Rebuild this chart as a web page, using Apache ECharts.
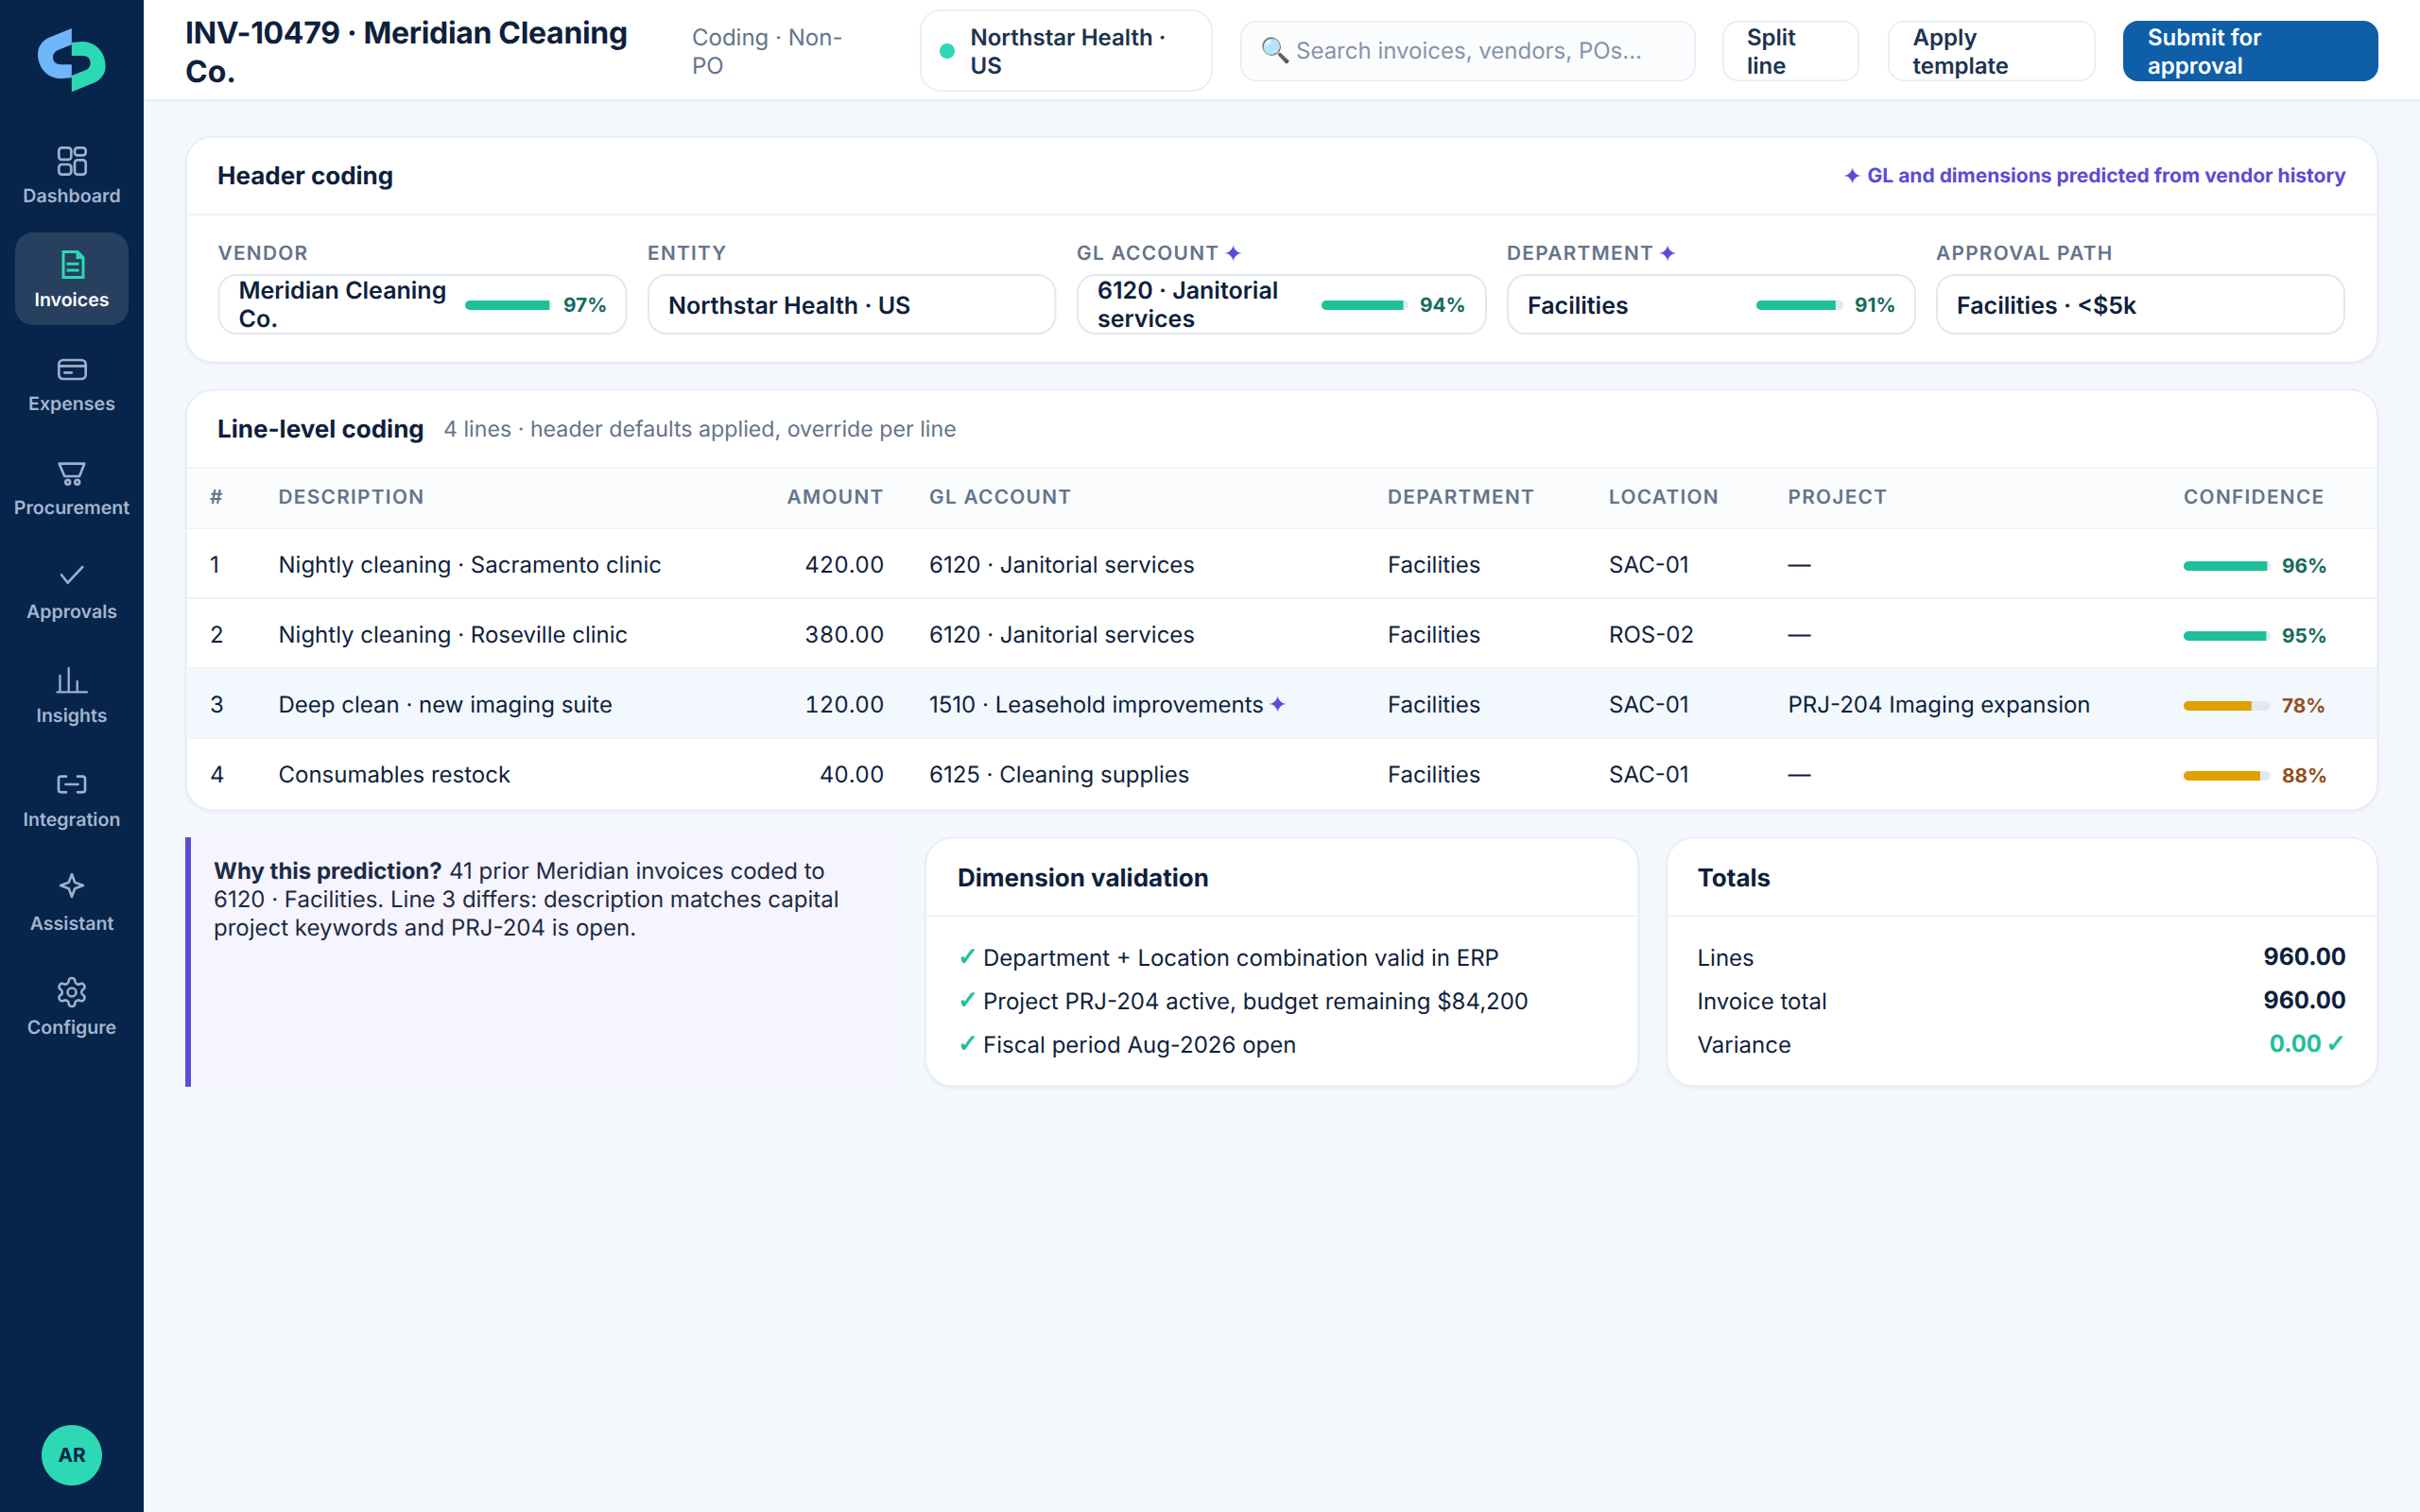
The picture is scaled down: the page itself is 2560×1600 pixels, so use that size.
<!DOCTYPE html>
<html><head><meta charset="utf-8">
<style>
html,body{margin:0;padding:0;background:#f4f7fc}
#chart{width:2560px;height:1600px}
#chart text{text-rendering:geometricPrecision}
</style>
<script src="https://cdn.jsdelivr.net/npm/echarts@6/dist/echarts.min.js"></script>
</head><body><div id="chart"></div>
<script>
// ---- data ----
const navItems = ['Dashboard','Invoices','Expenses','Procurement','Approvals','Insights','Integration','Assistant','Configure'];
const titleLines = ['INV-10479 · Meridian Cleaning','Co.'];
const subtitleLines = ['Coding · Non-','PO'];
const entityLines = ['Northstar Health ·','US'];
const searchHint = 'Search invoices, vendors, POs...';
const headerFieldLabels = ['VENDOR','ENTITY','GL ACCOUNT','DEPARTMENT','APPROVAL PATH'];
const headerFieldValues = [['Meridian Cleaning','Co.'],['Northstar Health · US'],['6120 · Janitorial','services'],['Facilities'],['Facilities · <$5k']];
const headerConfidence = [97,94,91];
const tableColumns = ['#','DESCRIPTION','AMOUNT','GL ACCOUNT','DEPARTMENT','LOCATION','PROJECT','CONFIDENCE'];
const lineNumbers = ['1','2','3','4'];
const lineDescriptions = ['Nightly cleaning · Sacramento clinic','Nightly cleaning · Roseville clinic','Deep clean · new imaging suite','Consumables restock'];
const lineAmounts = ['420.00','380.00','120.00','40.00'];
const lineAccounts = ['6120 · Janitorial services','6120 · Janitorial services','1510 · Leasehold improvements','6125 · Cleaning supplies'];
const lineDepartments = ['Facilities','Facilities','Facilities','Facilities'];
const lineLocations = ['SAC-01','ROS-02','SAC-01','SAC-01'];
const lineProjects = ['—','—','PRJ-204 Imaging expansion','—'];
const lineConfidence = [96,95,78,88];
const whyLines = ['41 prior Meridian invoices coded to','6120 · Facilities. Line 3 differs: description matches capital','project keywords and PRJ-204 is open.'];
const validations = ['Department + Location combination valid in ERP','Project PRJ-204 active, budget remaining $84,200','Fiscal period Aug-2026 open'];
const totalLabels = ['Lines','Invoice total','Variance'];
const totalValues = ['960.00','960.00','0.00'];

// ---- style ----
const FONT='Inter';
const INK='#0f1f3d', NAVY='#1c3350', MUTED='#64748b', BORDER='#e6ecf4', LINE='#f0f4f9', PURPLE='#5b4bd6', TEAL='#1fbf9a', AMBER='#e0a100', SIDE='#07244a';
const g=[];
function T(text,x,y,size,weight,fill,align,fam,sw){
  const style={text:text,x:x,y:y,font:weight+' '+size+'px '+(fam||FONT),fill:fill,align:align||'left',textAlign:align||'left',verticalAlign:'middle',textVerticalAlign:'middle'};
  if(sw){style.stroke=fill;style.lineWidth=sw;}
  g.push({type:'text',z:5,silent:true,style:style});
}
function R(x,y,x2,y2,r,fill,stroke,lw,z,shadow){
  const i=stroke?(lw||1.6)/2:0;
  const style={fill:fill||'none',stroke:stroke||'none',lineWidth:stroke?(lw||1.6):0};
  if(shadow){style.shadowColor='rgba(15,31,61,0.05)';style.shadowBlur=3;style.shadowOffsetY=1.6;}
  g.push({type:'rect',z:z||1,silent:true,shape:{x:x+i,y:y+i,width:x2-x-2*i,height:y2-y-2*i,r:r},style:style});
}
function ICON(x,y,w,h,vb,inner){
  const svg='<svg xmlns="http://www.w3.org/2000/svg" width="'+w*2+'" height="'+h*2+'" viewBox="'+vb+'">'+inner+'</svg>';
  g.push({type:'image',z:4,silent:true,style:{image:'data:image/svg+xml;charset=utf-8,'+encodeURIComponent(svg),x:x,y:y,width:w,height:h}});
}
const STAR="'DejaVu Sans'";
// ---- shell ----
R(0,0,2560,1600,0,'#f4f7fc');
R(0,0,152,1600,0,SIDE);
R(152,0,2560,106,0,'#ffffff');
R(152,105.5,2560,107.5,0,'#e4eaf2');

// logo
ICON(30,20,92,88,'0 0 276 264',
 '<path fill="#6fb6fb" d="M137.5 30V82L92 100Q78 108 78 122Q78 144 104 145H137.5V187L104 190C62 190 30 156 30 112C30 90 42 72 62 61Z"/>'+
 '<path fill="#2dd9b4" transform="rotate(180 137.5 131)" d="M137.5 30V82L92 100Q78 108 78 122Q78 144 104 145H137.5V187L104 190C62 190 30 156 30 112C30 90 42 72 62 61Z"/>');

// nav
R(16,246,136,344,19,'#27405f',null,0,2);
const IC='#9db0cd', AC='#2dd9b4';
const st=(c,w)=>'fill="none" stroke="'+c+'" stroke-width="'+w+'" stroke-linecap="round" stroke-linejoin="round"';
const navIcons=[
 [150,'<g '+st(IC,2.7)+'><rect x="6.3" y="6.3" width="13" height="12.6" rx="3"/><rect x="23" y="6.3" width="11.7" height="8" rx="3"/><rect x="23" y="19.4" width="11.7" height="15.2" rx="3"/><rect x="6.3" y="24" width="13" height="10.6" rx="3"/></g>'],
 [260,'<g '+st(AC,3).replace('round','butt').replace('round','miter')+'><path d="M11 6.5H26L32 12.5V33.5H11Z"/><path d="M26 6.5V12.5H32"/><path d="M14.5 19.3H27.5M14.5 26H27.5"/></g>'],
 [371,'<g '+st(IC,2.7)+'><rect x="6.3" y="10" width="28.4" height="20" rx="4.5"/><path d="M6.3 16.3H34.7"/><path d="M12.3 23.3H19.7"/></g>'],
 [481,'<g '+st(IC,2.7)+'><path d="M6.7 9.7H33.3L28 23H12.3Z"/><circle cx="15.7" cy="29.2" r="2.4"/><circle cx="25.7" cy="29.2" r="2.4"/></g>'],
 [590,'<g '+st(IC,2.6)+'><path d="M9 18.3L15.7 26.7L31.3 10"/></g>'],
 [700,'<g '+st(IC,2.3)+'><path d="M4.5 32.3H36M7.5 32V15M16.7 32V7M25.7 32V21"/></g>'],
 [810,'<g '+st(IC,2.7)+'><path d="M14 11.7H8.5Q6 11.7 6 14.2V25.8Q6 28.3 8.5 28.3H14"/><path d="M26 11.7H31.5Q34 11.7 34 14.2V25.8Q34 28.3 31.5 28.3H26"/><path d="M13.5 20H26.5"/></g>'],
 [917,'<g '+st(IC,2.6)+'><path d="M20 8L23.2 16.8L32 20L23.2 23.2L20 32L16.8 23.2L8 20L16.8 16.8Z"/></g>'],
];
navIcons.forEach(a=>ICON(56,a[0],40,40,'0 0 40 40',a[1]));
ICON(58,1032,36,36,'0 0 24 24','<g '+st(IC,1.75)+'><path d="M12.22 2h-.44a2 2 0 0 0-2 2v.18a2 2 0 0 1-1 1.73l-.43.25a2 2 0 0 1-2 0l-.15-.08a2 2 0 0 0-2.73.73l-.22.38a2 2 0 0 0 .73 2.73l.15.1a2 2 0 0 1 1 1.72v.51a2 2 0 0 1-1 1.74l-.15.09a2 2 0 0 0-.73 2.73l.22.38a2 2 0 0 0 2.73.73l.15-.08a2 2 0 0 1 2 0l.43.25a2 2 0 0 1 1 1.73V20a2 2 0 0 0 2 2h.44a2 2 0 0 0 2-2v-.18a2 2 0 0 1 1-1.73l.43-.25a2 2 0 0 1 2 0l.15.08a2 2 0 0 0 2.73-.73l.22-.39a2 2 0 0 0-.73-2.73l-.15-.08a2 2 0 0 1-1-1.74v-.5a2 2 0 0 1 1-1.74l.15-.09a2 2 0 0 0 .73-2.73l-.22-.38a2 2 0 0 0-2.73-.73l-.15.08a2 2 0 0 1-2 0l-.43-.25a2 2 0 0 1-1-1.73V4a2 2 0 0 0-2-2z"/><circle cx="12" cy="12" r="3"/></g>');
navItems.forEach((n,i)=>T(n,76,207+110*i,19.6,600,i===1?'#ffffff':'#a3b5d0','center'));
g.push({type:'circle',z:2,silent:true,shape:{cx:76,cy:1540,r:32},style:{fill:'#2dd9b4'}});
T('AR',76,1540,20.8,700,'#07244a','center');

// topbar
titleLines.forEach((s,i)=>T(s,196,34+41*i,32,700,INK));
subtitleLines.forEach((s,i)=>T(s,732,39+30*i,24,400,MUTED));
R(973,10,1283,97,22,'#ffffff',BORDER);
g.push({type:'circle',z:2,silent:true,shape:{cx:1002,cy:54,r:8},style:{fill:'#2dd9b4'}});
entityLines.forEach((s,i)=>T(s,1026.5,39+30*i,24,600,NAVY));
R(1312,22,1794,86,16,'#fbfcfe',BORDER);
T('🔍',1333,53,26,400,'#000');
T(searchHint,1371,53,24,400,'#8493a8');
R(1822,22,1967,86,16,'#ffffff',BORDER);
['Split','line'].forEach((s,i)=>T(s,1848,39+30*i,24,600,NAVY));
R(1997,22,2217,86,16,'#ffffff',BORDER);
['Apply','template'].forEach((s,i)=>T(s,2023.5,39+30*i,24,600,NAVY));
R(2246,22,2516,86,16,'#0f5ea8');
['Submit for','approval'].forEach((s,i)=>T(s,2272,39+30*i,24,600,'#ffffff'));

// header card
R(196,144,2516,384,28,'#ffffff',BORDER,1.6,1,true);
R(197,226,2515,228,0,LINE);
T('Header coding',230,186,26,700,INK);
T('✦',1949,186,25,600,PURPLE,'left',STAR);
T('GL and dimensions predicted from vendor history',2482,186,21,700,PURPLE,'right');
const fieldX=[230.5,685,1139,1594,2048], fieldX2=[663.5,1117.5,1573,2027,2481];
const fieldStarX={2:1294,3:1753.5};
headerFieldLabels.forEach((s,i)=>{
  T(s,fieldX[i],268,20.8,600,MUTED);
  if(fieldStarX[i]) T('✦',fieldStarX[i],268,25,600,PURPLE,'left',STAR);
  R(fieldX[i],290,fieldX2[i],354,19,'#ffffff','#e2e8f0',2);
  const v=headerFieldValues[i];
  v.forEach((l,j)=>T(l,fieldX[i]+22,v.length===1?324:308+30*j,25,600,INK));
});

// line card
R(196,412,2516,858,28,'#ffffff',BORDER,1.6,1,true);
R(197,494,2515,496,0,LINE);
R(198,496,2514,559,0,'#fbfcfe');
R(198,558,2514,560,0,LINE);
R(198,632,2514,634,0,LINE);
R(198,707,2514,781,0,'#f2f8fe');
R(198,706,2514,708,0,LINE);
R(198,780,2514,782,0,LINE);
T('Line-level coding',230,454,26,700,INK);
T('4 lines · header defaults applied, override per line',469,454,23.2,400,MUTED);
const colX=[222,294.5,935.5,983,1468,1702,1891.5,2310];
tableColumns.forEach((s,i)=>T(s,colX[i],526.5,20.8,600,MUTED,i===2?'right':'left'));
const rowY=[597,671,745,819];
lineNumbers.forEach((n,i)=>{
  const y=rowY[i];
  T(n,colX[0],y,24,400,INK);
  T(lineDescriptions[i],colX[1],y,24,400,INK);
  T(lineAmounts[i],colX[2],y,24,400,INK,'right');
  T(lineAccounts[i],colX[3],y,24,400,INK);
  T(lineDepartments[i],colX[4],y,24,400,INK);
  T(lineLocations[i],colX[5],y,24,400,INK);
  T(lineProjects[i],colX[6],y,24,400,INK);
});
T('✦',1341,745,25,400,PURPLE,'left',STAR);

// why callout
R(196,886,952,1150,0,'#f6f4fe');
R(196,886,202,1150,0,'#5f4bd8');
T('Why this prediction?',226,921,24,700,'#1c2b45');
whyLines.forEach((s,i)=>T(s,i===0?475:226,921+30*i,24,400,'#1c2b45'));

// validation card
R(978.5,886,1734,1150,28,'#ffffff',BORDER,1.6,1,true);
R(980,968,1733,970,0,LINE);
T('Dimension validation',1013,929,26,700,INK);
validations.forEach((s,i)=>{
  T('✓',1013,1013+46*i,26,400,TEAL,'left',STAR,0.9);
  T(s,1040,1013+46*i,24,400,INK);
});
// totals card
R(1762.5,886,2516,1150,28,'#ffffff',BORDER,1.6,1,true);
R(1764,968,2515,970,0,LINE);
T('Totals',1795.5,929,26,700,INK);
totalLabels.forEach((s,i)=>{
  T(s,1795.5,1013+46*i,24,400,INK);
  T(totalValues[i],i===2?2456:2482,1013+46*i,25,700,i===2?TEAL:INK,'right');
});
T('✓',2482,1105,26,400,TEAL,'right',STAR,0.9);

// ---- confidence bars drawn from data via axes ----
const confColor=v=>v>=90?TEAL:AMBER, confText=v=>v>=90?'#166b5e':'#924f22';
function barSet(top,left,vals,cats,idx){
  return {
    grid:{left:left,top:top,width:92,height:74*vals.length,containLabel:false},
    x:{type:'value',gridIndex:idx,min:0,max:100,show:false},
    y:{type:'category',gridIndex:idx,z:7,data:cats,inverse:true,position:'right',axisLine:{show:false},axisTick:{show:false},splitLine:{show:false},
       axisLabel:{show:true,interval:0,margin:12,fontFamily:FONT,fontSize:20.8,fontWeight:700,hideOverlap:false,
         formatter:(v,i)=>vals[i]+'%',color:(v,i)=>confText(vals[i])}},
    s:{type:'bar',xAxisIndex:idx,yAxisIndex:idx,barWidth:10,silent:true,z:6,
       showBackground:true,backgroundStyle:{color:'#e2e8f0',borderRadius:5},
       data:vals.map(v=>({value:v,itemStyle:{color:confColor(v),borderRadius:[5,0,0,5]}}))}
  };
}
const sets=[
  barSet(562,2310,lineConfidence,lineNumbers,0),
  barSet(323-37,492,[headerConfidence[0]],['vendor'],1),
  barSet(323-37,1398,[headerConfidence[1]],['gl'],2),
  barSet(323-37,1858,[headerConfidence[2]],['department'],3)
];
const chart=echarts.init(document.getElementById('chart'),null,{renderer:'svg',width:2560,height:1600});
chart.setOption({
  animation:false,
  backgroundColor:'#f4f7fc',
  textStyle:{fontFamily:FONT},
  grid:sets.map(s=>s.grid),xAxis:sets.map(s=>s.x),yAxis:sets.map(s=>s.y),series:sets.map(s=>s.s),
  graphic:{elements:g}
});
const spaced=new Set([...headerFieldLabels,...tableColumns]);
const tabular=new Set([...lineAmounts,...totalValues]);
function track(){
  document.querySelectorAll('#chart text').forEach(t=>{
    const c=t.textContent;
    if(spaced.has(c)) t.style.letterSpacing='1.3px';
    if(c===titleLines[0]) t.style.letterSpacing='-0.32px';
    if(tabular.has(c)) t.style.fontVariantNumeric='tabular-nums';
  });
}
track();chart.on('finished',track);
</script></body></html>
